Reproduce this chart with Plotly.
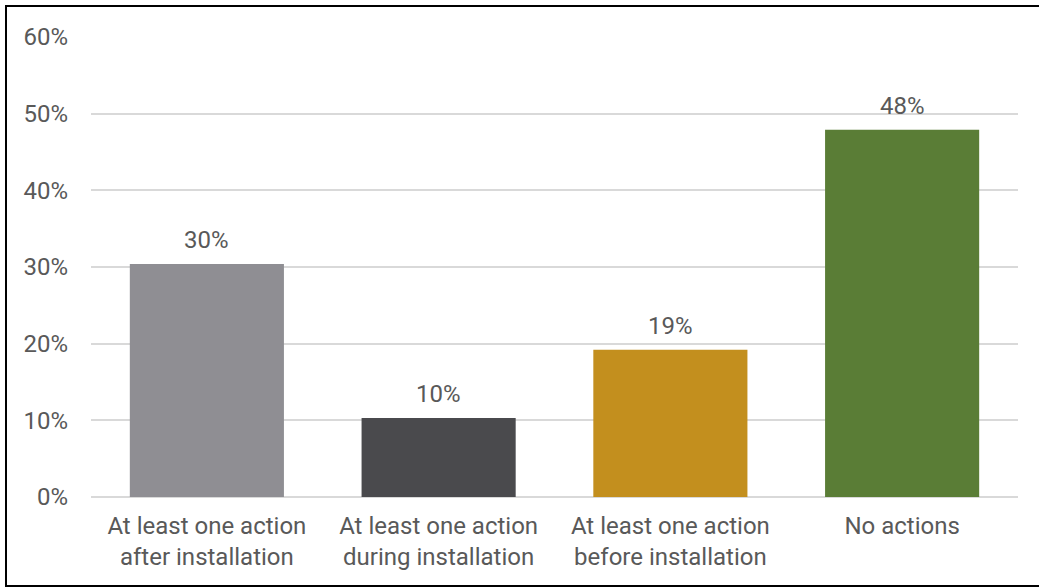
import plotly.graph_objects as go

categories = ["At least one action<br>after installation",
              "At least one action<br>during installation",
              "At least one action<br>before installation",
              "No actions"]
values = [30.4, 10.3, 19.2, 47.9]
labels = ["30%", "10%", "19%", "48%"]
colors = ["#8F8E93", "#4A4A4D", "#C38F1E", "#5A7D36"]
tick_vals = [0, 10, 20, 30, 40, 50, 60]
tick_text = ["0%", "10%", "20%", "30%", "40%", "50%", "60%"]

W, H = 1039, 588
L, R, T, B = 91, 21, 37, 91
pw, ph = W - L - R, H - T - B
FS = 24
FC = "#595959"

fig = go.Figure(go.Bar(
    x=categories, y=values, marker=dict(color=colors, line=dict(width=0)),
))

for c, v, t in zip(categories, values, labels):
    fig.add_annotation(x=c, y=v, text=t, showarrow=False, yanchor="bottom",
                       yshift=8, font=dict(family="Roboto", size=FS, color=FC))

def px_x(p):
    return (p - L) / pw

def px_y(p):
    return (H - B - p) / ph

fig.update_layout(
    width=W, height=H,
    margin=dict(l=L, r=R, t=T, b=B),
    paper_bgcolor="white", plot_bgcolor="white",
    bargap=0.335, showlegend=False,
    font=dict(family="Roboto", size=FS, color=FC),
    xaxis=dict(showgrid=False, showline=False, ticks="", ticklabelstandoff=12,
               tickfont=dict(family="Roboto", size=FS, color=FC)),
    yaxis=dict(range=[0, 60], tickvals=tick_vals, ticktext=tick_text,
               showgrid=True, gridcolor="#D9D9D9", gridwidth=1.5,
               zeroline=True, zerolinecolor="#D9D9D9", zerolinewidth=1.5,
               showline=False, ticks="", ticklabelstandoff=22,
               tickfont=dict(family="Roboto", size=FS, color=FC)),
    shapes=[dict(type="rect", xref="paper", yref="paper",
                 x0=px_x(6), x1=px_x(1050), y0=px_y(586), y1=px_y(6),
                 line=dict(color="black", width=2), fillcolor="rgba(0,0,0,0)",
                 layer="above")],
)

fig.write_html("out.html")
